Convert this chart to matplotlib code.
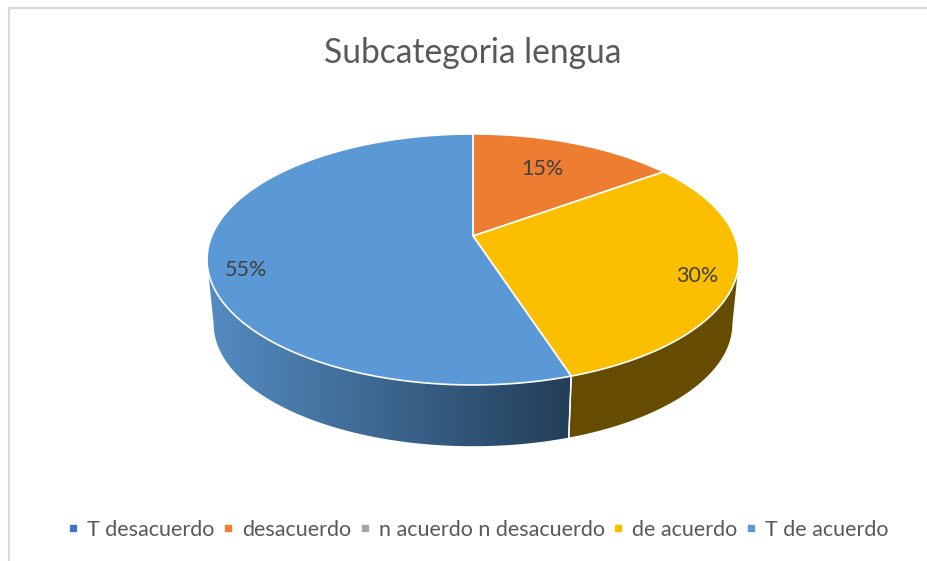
import numpy as np
import matplotlib
matplotlib.use("Agg")
import matplotlib.pyplot as plt
from matplotlib.patches import Polygon
from matplotlib.colors import LinearSegmentedColormap
from matplotlib.lines import Line2D

title = "Subcategoria lengua"
categories = ["T desacuerdo", "desacuerdo", "n acuerdo n desacuerdo", "de acuerdo", "T de acuerdo"]
values = [0, 15, 0, 30, 55]
colors = ["#4472C4", "#ED7D31", "#A5A5A5", "#FBBF00", "#5B98D6"]
wall_colors = {"#FBBF00": ("#654C00", "#654C00"), "#5B98D6": ("#548CC2", "#233E58"),
               "#ED7D31": ("#8A4A1C", "#8A4A1C")}
label_nudge = {1: (-3, -1), 3: (2, 7), 4: (-2, 17)}

plt.rcParams["font.family"] = ["Lato", "DejaVu Sans"]
TXT = "#595959"
W, H = 927, 561
fig = plt.figure(figsize=(W / 100, H / 100), dpi=100, facecolor="white")
ax = fig.add_axes([0, 0, 1, 1])

# perspective view of the pie disc
CX, CY, K, A, B = 473.0, 236.0, 0.187, 121.1, 261.3
DEPTH_Y, DEPTH_S = 301.0, 0.975


def top(theta, r=1.0):
    u, v = r * np.sin(theta), r * np.cos(theta)
    d = 1 + K * v
    return CX + B * u / d, CY - A * v / d


def bottom(theta):
    u, v = np.sin(theta), np.cos(theta)
    d = 1 + K * v
    return CX + DEPTH_S * B * u / d, DEPTH_Y - DEPTH_S * A * v / d


total = sum(values)
edges = np.deg2rad(np.cumsum([0] + values) / total * 360)

# side wall: horizontal gradient clipped to the visible band of each slice
grad = np.linspace(0, 1, 256).reshape(1, -1)
for i, val in enumerate(values):
    if val == 0:
        continue
    t = np.linspace(edges[i], edges[i + 1], 600)
    t = t[np.cos(t) <= -K]
    if t.size < 2:
        continue
    tx, ty = top(t)
    bx, by = bottom(t)
    pts = np.column_stack([np.r_[tx, bx[::-1]], np.r_[ty, by[::-1]]])
    band = Polygon(pts, closed=True, facecolor="none", edgecolor="none", transform=ax.transData)
    ax.add_patch(band)
    cmap = LinearSegmentedColormap.from_list("w", list(wall_colors[colors[i]]))
    im = ax.imshow(grad, cmap=cmap, extent=(207, 571, 460, 230), aspect="auto", zorder=2,
                   interpolation="bilinear")
    if tx.min() > 560:
        im.set_extent((560, 745, 460, 230))
    im.set_clip_path(band)
    for e in (edges[i], edges[i + 1]):
        if np.cos(e) < -0.5:
            (x0, y0), (x1, y1) = top(e), bottom(e)
            ax.plot([x0, x1], [y0, y1], color="white", lw=1.0, zorder=3)

ax.set_xlim(0, W)
ax.set_ylim(H, 0)
ax.axis("off")

# top face
for i, val in enumerate(values):
    if val == 0:
        continue
    t = np.linspace(edges[i], edges[i + 1], 200)
    x, y = top(t)
    pts = np.column_stack([np.r_[CX, x], np.r_[CY, y]])
    ax.add_patch(Polygon(pts, closed=True, facecolor=colors[i], edgecolor="white", lw=1.2,
                         joinstyle="round", zorder=4))
    mid = (edges[i] + edges[i + 1]) / 2
    lx, ly = top(mid, 0.85 if i > 1 else 0.68)
    dx, dy = label_nudge[i]
    ax.text(lx + dx, ly + dy, f"{val / total:.0%}", ha="center", va="center",
            fontsize=15.5, color="#404040", zorder=5)

ax.text(473, 53, title, ha="center", va="center", fontsize=24.2, color=TXT)

# chart frame (top and left only)
ax.add_line(Line2D([9, 9, W], [H, 8, 8], color="#D9D9D9", lw=1.6, zorder=1))

handles = [Line2D([], [], ls="none", marker="s", ms=4.6, color=c) for c in colors]
leg = ax.legend(handles, categories, loc="center", bbox_to_anchor=(477.5 / W, 1 - 530 / H), ncol=5,
                frameon=False, fontsize=15.5, labelcolor=TXT, handlelength=0.6, handletextpad=0.35,
                columnspacing=0.34, borderpad=0, borderaxespad=0)

fig.savefig("out.png", dpi=100)
